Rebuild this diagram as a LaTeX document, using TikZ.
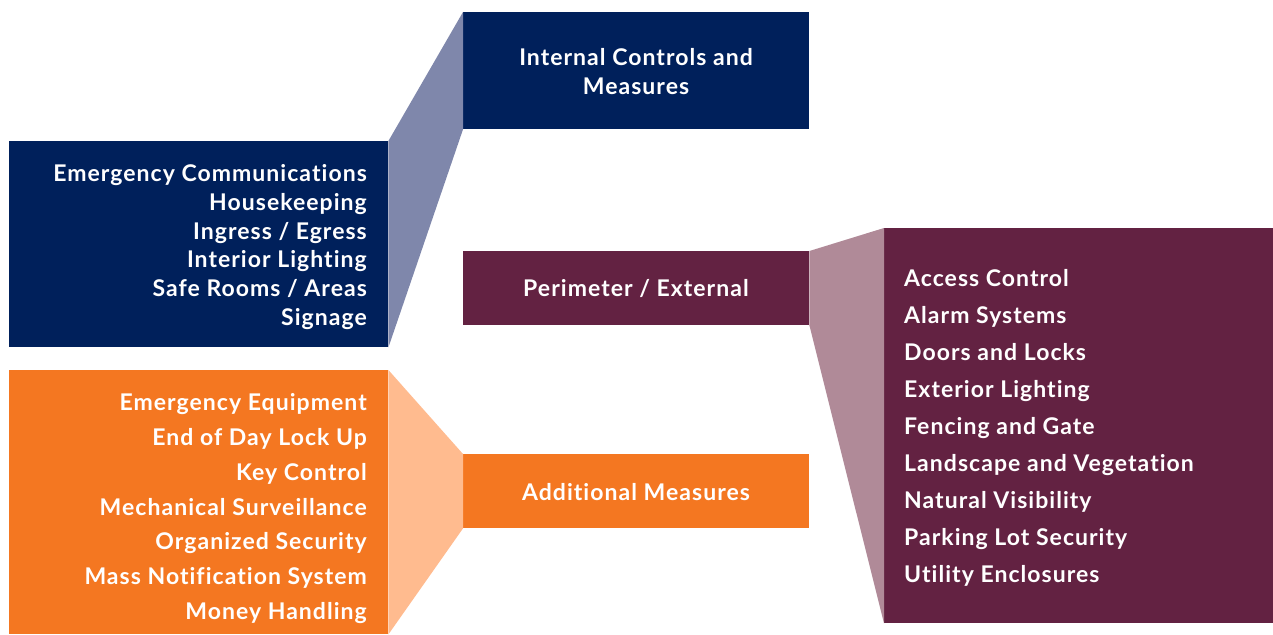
\documentclass[tikz,border=0pt]{standalone}
\usepackage{fontspec}
\setmainfont{Lato}[LetterSpace=4.5, Ligatures=NoCommon]
\usetikzlibrary{positioning}

\definecolor{navyblue}{HTML}{00205B}
\definecolor{navylight}{HTML}{7F87AB}
\definecolor{plum}{HTML}{632242}
\definecolor{plumlight}{HTML}{B08A98}
\definecolor{tangerine}{HTML}{F47721}
\definecolor{tangerinelight}{HTML}{FFBB8F}

\tikzset{
  block/.style={fill=#1, inner sep=0pt, anchor=north west, text=white,
    align=center, font=\bfseries\fontsize{23}{28}\selectfont},
  listitem/.style={inner sep=0pt, text=white, font=\bfseries\fontsize{23}{28}\selectfont},
}

\begin{document}
\begin{tikzpicture}[x=1pt,y=-1pt]
  \useasboundingbox (0,0) rectangle (1273,634);
  % heading boxes
  \node[block=navyblue, minimum width=346pt, minimum height=117pt] (internal) at (463,12) {};
  \node[block=plum, minimum width=346pt, minimum height=74pt] (perimeter) at (463,251) {};
  \node[block=tangerine, minimum width=346pt, minimum height=74pt] (additional) at (463,454) {};
  % list boxes
  \node[block=navyblue, minimum width=379pt, minimum height=206pt] (intlist) at (9,141) {};
  \node[block=plum, minimum width=389pt, minimum height=395pt] (perlist) at (884,228) {};
  \node[block=tangerine, minimum width=379pt, minimum height=264pt] (addlist) at (9,370) {};
  % funnels
  \fill[navylight] (intlist.north east) -- (internal.north west) -- (internal.south west) -- (intlist.south east) -- cycle;
  \fill[plumlight] (perimeter.north east) -- (perlist.north west) -- (perlist.south west) -- (perimeter.south east) -- cycle;
  \fill[tangerinelight] (addlist.north east) -- (additional.north west) -- (additional.south west) -- (addlist.south east) -- cycle;
  % headings
  \node[listitem, anchor=base] (internaltop) at (636,66) {Internal Controls and};
  \node[listitem, anchor=base] (internalbot) at (636,94) {Measures};
  \node[listitem, anchor=base] (perimetertxt) at (636,296.7) {Perimeter / External};
  \node[listitem, anchor=base] (additionaltxt) at (636,500) {Additional Measures};
  % items
  \foreach \t [count=\i from 0] in {Emergency Communications, Housekeeping,
      Ingress / Egress, Interior Lighting, Safe Rooms / Areas, Signage}
    \node[listitem, anchor=base east] (int\i) at (367,{181.7+28.7*\i}) {\t};
  \foreach \t [count=\i from 0] in {Access Control, Alarm Systems, Doors and Locks,
      Exterior Lighting, Fencing and Gate, Landscape and Vegetation,
      Natural Visibility, Parking Lot Security, Utility Enclosures}
    \node[listitem, anchor=base west] (per\i) at (904,{286.7+37*\i}) {\t};
  \foreach \t [count=\i from 0] in {Emergency Equipment, End of Day Lock Up,
      Key Control, Mechanical Surveillance, Organized Security,
      Mass Notification System, Money Handling}
    \node[listitem, anchor=base east] (add\i) at (367,{410.7+34.8*\i}) {\t};
\end{tikzpicture}
\end{document}
